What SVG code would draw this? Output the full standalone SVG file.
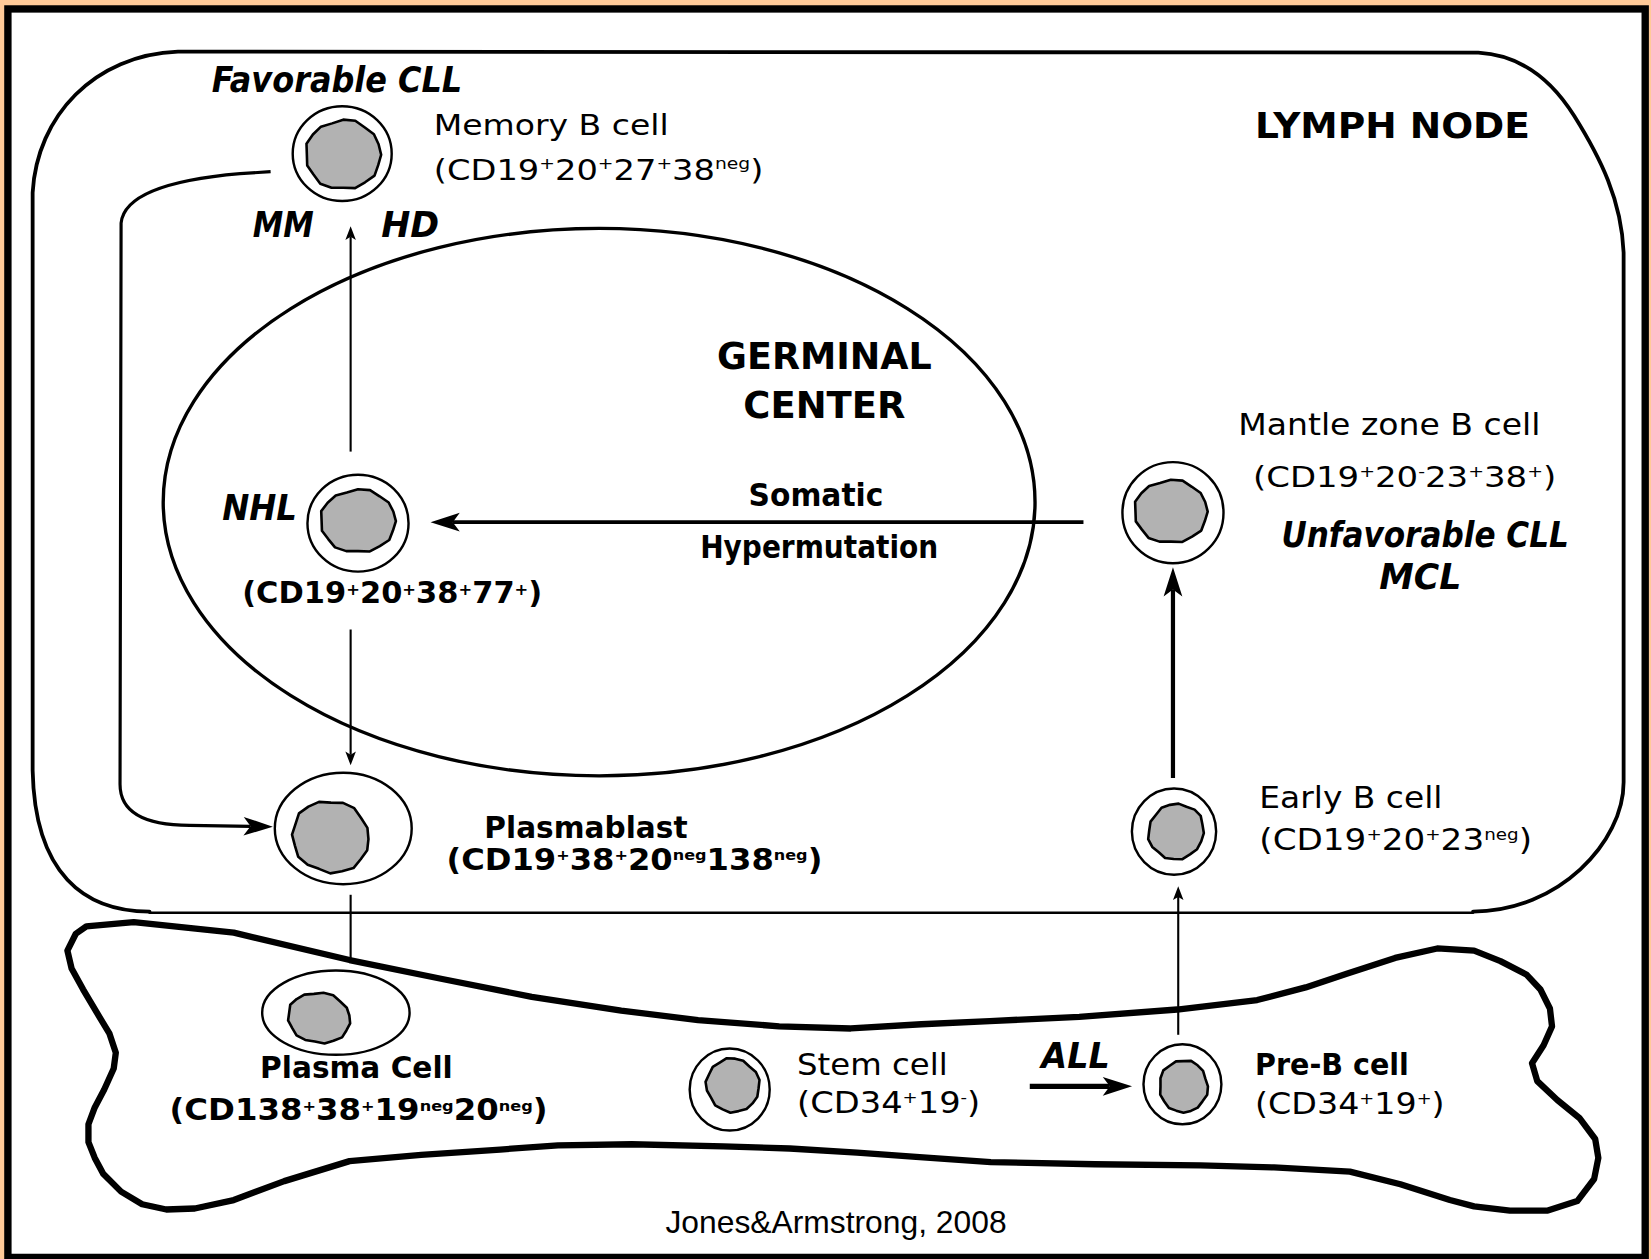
<svg xmlns="http://www.w3.org/2000/svg" xmlns:xlink="http://www.w3.org/1999/xlink" width="1651" height="1259" viewBox="0 0 1651 1259">
<style>
.t{font-family:"DejaVu Sans","Liberation Sans",sans-serif;fill:#000}
.b{font-weight:bold}
.bi{font-weight:bold;font-style:italic}
.reg{stroke:#000;fill:none;stroke-linejoin:round;stroke-linecap:round}
.outer{fill:#fff;stroke:#000;stroke-width:2.3}
.con{fill:none;stroke:#000;stroke-linecap:butt;stroke-linejoin:round}
</style>
<defs>
<path id="nuc" d="M1,0 L0.922,0.3 L0.825,0.6 L0.576,0.793 L0.312,0.961 L0,0.95 L-0.309,0.951 L-0.606,0.833 L-0.785,0.57 L-0.951,0.309 L-0.96,0 L-0.97,-0.315 L-0.801,-0.582 L-0.588,-0.809 L-0.294,-0.903 L0,-1.01 L0.318,-0.98 L0.57,-0.785 L0.809,-0.588 L0.932,-0.303 Z" fill="#b2b2b2" stroke="#000" stroke-width="2.6" stroke-linejoin="round" vector-effect="non-scaling-stroke"/>
<marker id="ah" markerUnits="userSpaceOnUse" markerWidth="30" markerHeight="20" viewBox="0 -9 26 18" refX="6" refY="0" orient="auto">
<path d="M0,-8 L25,0 L0,8 L6,0 Z" fill="#000"/>
</marker>
<marker id="ahs" markerUnits="userSpaceOnUse" markerWidth="16" markerHeight="12" viewBox="0 -6 14 12" refX="3" refY="0" orient="auto">
<path d="M0,-5 L13,0 L0,5 L3,0 Z" fill="#000"/>
</marker>
</defs>
<rect x="0" y="0" width="1651" height="1259" fill="#FFCA98"/>
<g transform="scale(1.05293 1.05268)">
<rect x="7.5" y="8.5" width="1555" height="1186" fill="#fff" stroke="#000" stroke-width="7"/>

<g id="lymph-node">
<path class="reg" stroke-width="3.6" d="M142 866 C80 866 33 830 31 732 L31 183 C35 110 90 52 169 49 L1404 50 C1440 52 1470 70 1495 110 C1520 150 1540 190 1542 240 L1542 743 C1542 800 1480 866 1399 866"/>
<path class="reg" stroke-width="2.4" d="M142 867 L1399 867"/>
<text class="t b" x="1192" y="131" font-size="34" textLength="261" lengthAdjust="spacingAndGlyphs">LYMPH NODE</text>
</g>

<g id="germinal-center">
<ellipse cx="569" cy="477" rx="414" ry="260" fill="none" stroke="#000" stroke-width="3.2"/>
<text class="t b" x="681" y="351" font-size="35" textLength="204" lengthAdjust="spacingAndGlyphs">GERMINAL</text>
<text class="t b" x="706" y="397" font-size="35" textLength="154" lengthAdjust="spacingAndGlyphs">CENTER</text>
</g>

<g id="bone-marrow">
<path class="reg" stroke-width="6" d="M82 880 L127 876 L222 886 L332 912 L420 930 L505 947 L590 960 L663 969 L740 975 L808 977 L875 973 L940 970 L1025 966 L1118 959 L1194 950 L1240 938 L1279 925 L1325 910 L1365 901 L1400 903 L1425 913 L1450 926 L1463 940 L1472 958 L1474 975 L1466 993 L1455 1010 L1460 1027 L1479 1045 L1500 1062 L1515 1082 L1518 1100 L1514 1120 L1498 1141 L1470 1150 L1434 1150 L1400 1146 L1377 1140 L1330 1125 L1282 1113 L1210 1109 L1140 1107 L1040 1106 L941 1104 L870 1099 L814 1095 L750 1091 L687 1089 L600 1087 L530 1088 L475 1092 L400 1097 L332 1103 L270 1122 L222 1140 L185 1148 L158 1149 L135 1144 L115 1132 L98 1115 L90 1100 L84 1085 L84 1068 L90 1052 L99 1035 L108 1015 L110 1000 L104 982 L92 962 L79 940 L68 920 L64 903 L72 887 Z"/>
</g>

<g id="connectors">
<path class="con" stroke-width="3" d="M257 163 L228 165 C170 170 118 182 115 212 L114 745 C114 770 135 784 180 784 L238 785" marker-end="url(#ah)"/>
<path class="con" stroke-width="2" d="M333 429 L333 225" marker-end="url(#ahs)"/>
<path class="con" stroke-width="2" d="M333 598 L333 717" marker-end="url(#ahs)"/>
<path class="con" stroke-width="2" d="M333 850 L333 913"/>
<path class="con" stroke-width="3.6" d="M1029 496 L430 496" marker-end="url(#ah)"/>
<path class="con" stroke-width="4" d="M1114 739 L1114 560" marker-end="url(#ah)"/>
<path class="con" stroke-width="2" d="M1119 983 L1119 852" marker-end="url(#ahs)"/>
<path class="con" stroke-width="5" d="M978 1032 L1054 1032" marker-end="url(#ah)"/>
<text class="t b" x="711" y="481" font-size="30" textLength="128" lengthAdjust="spacingAndGlyphs">Somatic</text>
<text class="t b" x="665" y="530" font-size="30" textLength="226" lengthAdjust="spacingAndGlyphs">Hypermutation</text>
<text class="t bi" x="989" y="1015" font-size="33" textLength="65" lengthAdjust="spacingAndGlyphs">ALL</text>
<text class="t bi" x="240" y="225" font-size="33" textLength="58" lengthAdjust="spacingAndGlyphs">MM</text>
<text class="t bi" x="362" y="225" font-size="33" textLength="55" lengthAdjust="spacingAndGlyphs">HD</text>
</g>

<g id="memory-b-cell">
<ellipse class="outer" cx="325" cy="146" rx="47" ry="45"/>
<use xlink:href="#nuc" href="#nuc" transform="translate(326 147) scale(36 33)"/>
<text class="t bi" x="201" y="87" font-size="33" textLength="238" lengthAdjust="spacingAndGlyphs">Favorable CLL</text>
<text class="t" x="412" y="128" font-size="27" textLength="223" lengthAdjust="spacingAndGlyphs">Memory B cell</text>
<text class="t" x="412" y="171" font-size="27" textLength="313" lengthAdjust="spacingAndGlyphs">(CD19<tspan font-size="15" dy="-10">+</tspan><tspan dy="10">20</tspan><tspan font-size="15" dy="-10">+</tspan><tspan dy="10">27</tspan><tspan font-size="15" dy="-10">+</tspan><tspan dy="10">38</tspan><tspan font-size="15" dy="-10">neg</tspan><tspan dy="10">)</tspan></text>
</g>

<g id="nhl-cell">
<ellipse class="outer" cx="340" cy="497" rx="48" ry="46"/>
<use xlink:href="#nuc" href="#nuc" transform="translate(340 495) scale(36 30)"/>
<text class="t bi" x="211" y="494" font-size="33" textLength="71" lengthAdjust="spacingAndGlyphs">NHL</text>
<text class="t b" x="230" y="573" font-size="28" textLength="285" lengthAdjust="spacingAndGlyphs">(CD19<tspan font-size="15" dy="-8">+</tspan><tspan dy="8">20</tspan><tspan font-size="15" dy="-8">+</tspan><tspan dy="8">38</tspan><tspan font-size="15" dy="-8">+</tspan><tspan dy="8">77</tspan><tspan font-size="15" dy="-8">+</tspan><tspan dy="8">)</tspan></text>
</g>

<g id="mantle-zone-b-cell">
<ellipse class="outer" cx="1114" cy="487" rx="48" ry="48"/>
<use xlink:href="#nuc" href="#nuc" transform="translate(1112 486) scale(35 30)"/>
<text class="t" x="1176" y="413" font-size="28" textLength="287" lengthAdjust="spacingAndGlyphs">Mantle zone B cell</text>
<text class="t" x="1190" y="463" font-size="27" textLength="288" lengthAdjust="spacingAndGlyphs">(CD19<tspan font-size="15" dy="-10">+</tspan><tspan dy="10">20</tspan><tspan font-size="15" dy="-10">-</tspan><tspan dy="10">23</tspan><tspan font-size="15" dy="-10">+</tspan><tspan dy="10">38</tspan><tspan font-size="15" dy="-10">+</tspan><tspan dy="10">)</tspan></text>
<text class="t bi" x="1217" y="520" font-size="33" textLength="273" lengthAdjust="spacingAndGlyphs">Unfavorable CLL</text>
<text class="t bi" x="1310" y="560" font-size="33" textLength="78" lengthAdjust="spacingAndGlyphs">MCL</text>
</g>

<g id="plasmablast">
<ellipse class="outer" cx="326" cy="787" rx="65" ry="53"/>
<use xlink:href="#nuc" href="#nuc" transform="translate(314 795) rotate(20) scale(37 34)"/>
<text class="t b" x="460" y="796" font-size="28" textLength="193" lengthAdjust="spacingAndGlyphs">Plasmablast</text>
<text class="t b" x="424" y="826" font-size="28" textLength="357" lengthAdjust="spacingAndGlyphs">(CD19<tspan font-size="14" dy="-9">+</tspan><tspan dy="9">38</tspan><tspan font-size="14" dy="-9">+</tspan><tspan dy="9">20</tspan><tspan font-size="14" dy="-9">neg</tspan><tspan dy="9">138</tspan><tspan font-size="14" dy="-9">neg</tspan><tspan dy="9">)</tspan></text>
</g>

<g id="early-b-cell">
<ellipse class="outer" cx="1115" cy="790" rx="40" ry="41"/>
<use xlink:href="#nuc" href="#nuc" transform="translate(1117 790) rotate(40) scale(26 27)"/>
<text class="t" x="1196" y="768" font-size="28" textLength="174" lengthAdjust="spacingAndGlyphs">Early B cell</text>
<text class="t" x="1196" y="807" font-size="28" textLength="259" lengthAdjust="spacingAndGlyphs">(CD19<tspan font-size="15" dy="-9">+</tspan><tspan dy="9">20</tspan><tspan font-size="15" dy="-9">+</tspan><tspan dy="9">23</tspan><tspan font-size="15" dy="-9">neg</tspan><tspan dy="9">)</tspan></text>
</g>

<g id="plasma-cell">
<ellipse class="outer" cx="319" cy="962" rx="70" ry="40"/>
<use xlink:href="#nuc" href="#nuc" transform="translate(303 967) rotate(10) scale(30 24)"/>
<text class="t b" x="247" y="1024" font-size="28" textLength="183" lengthAdjust="spacingAndGlyphs">Plasma Cell</text>
<text class="t b" x="161" y="1064" font-size="28" textLength="359" lengthAdjust="spacingAndGlyphs">(CD138<tspan font-size="14" dy="-9">+</tspan><tspan dy="9">38</tspan><tspan font-size="14" dy="-9">+</tspan><tspan dy="9">19</tspan><tspan font-size="14" dy="-9">neg</tspan><tspan dy="9">20</tspan><tspan font-size="14" dy="-9">neg</tspan><tspan dy="9">)</tspan></text>
</g>

<g id="stem-cell">
<ellipse class="outer" cx="693" cy="1035" rx="38" ry="39"/>
<use xlink:href="#nuc" href="#nuc" transform="translate(696 1031) rotate(60) scale(26 25)"/>
<text class="t" x="757" y="1021" font-size="28" textLength="143" lengthAdjust="spacingAndGlyphs">Stem cell</text>
<text class="t" x="757" y="1057" font-size="28" textLength="174" lengthAdjust="spacingAndGlyphs">(CD34<tspan font-size="15" dy="-9">+</tspan><tspan dy="9">19</tspan><tspan font-size="15" dy="-9">-</tspan><tspan dy="9">)</tspan></text>
</g>

<g id="pre-b-cell">
<ellipse class="outer" cx="1123" cy="1030" rx="37" ry="38"/>
<use xlink:href="#nuc" href="#nuc" transform="translate(1124 1032) rotate(90) scale(25 23)"/>
<text class="t b" x="1192" y="1021" font-size="28" textLength="146" lengthAdjust="spacingAndGlyphs">Pre-B cell</text>
<text class="t" x="1192" y="1058" font-size="28" textLength="180" lengthAdjust="spacingAndGlyphs">(CD34<tspan font-size="15" dy="-9">+</tspan><tspan dy="9">19</tspan><tspan font-size="15" dy="-9">+</tspan><tspan dy="9">)</tspan></text>
</g>

<g id="credit">
<text x="632" y="1171" font-family="'Liberation Sans',Arial,sans-serif" font-size="30" textLength="324" lengthAdjust="spacingAndGlyphs">Jones&amp;Armstrong, 2008</text>
</g>
</g>
</svg>
